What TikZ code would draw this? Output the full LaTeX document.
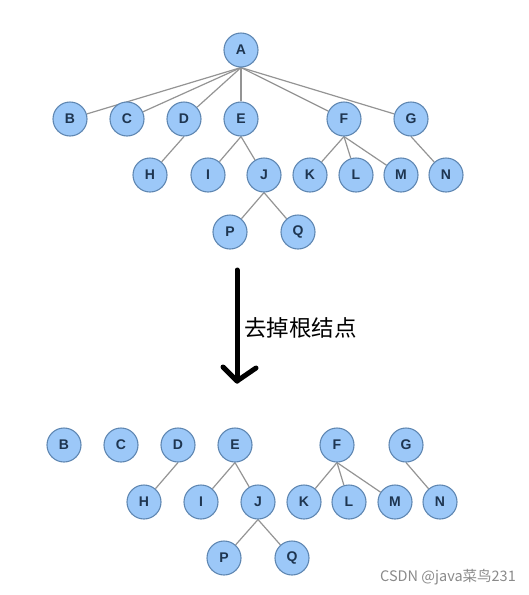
\documentclass[tikz,border=0pt]{standalone}
\usepackage{fontspec}
\setmainfont{Liberation Sans}
\newfontfamily\cjk{Noto Sans CJK SC}
\definecolor{nodefill}{HTML}{9CC8F8}
\definecolor{nodeline}{HTML}{5F87B2}
\definecolor{nodetext}{HTML}{1E3550}
\definecolor{edgecol}{HTML}{949494}
\definecolor{marktext}{HTML}{8A8A8A}
\pgfdeclarelayer{background}
\pgfsetlayers{background,main}
\tikzset{
  tnode/.style={circle, draw=nodeline, fill=nodefill, line width=1.1pt, minimum size=34pt, inner sep=0pt, font=\bfseries\fontsize{14}{14}\selectfont, text=nodetext},
  tedge/.style={draw=edgecol, line width=1.2pt},
}
\begin{document}
\begin{tikzpicture}[x=1pt, y=-1pt]
\useasboundingbox (0,0) rectangle (529,595);
% top tree
\node[tnode] (A) at (241,50) {A};
\node[tnode] (B) at (70,119) {B};
\node[tnode] (C) at (127,119) {C};
\node[tnode] (D) at (184,119) {D};
\node[tnode] (E) at (241,119) {E};
\node[tnode] (F) at (344,119) {F};
\node[tnode] (G) at (411,119) {G};
\node[tnode] (H) at (150,175) {H};
\node[tnode] (I) at (208,175) {I};
\node[tnode] (J) at (264,175) {J};
\node[tnode] (K) at (310,175) {K};
\node[tnode] (L) at (356,175) {L};
\node[tnode] (M) at (401,175) {M};
\node[tnode] (N) at (446,175) {N};
\node[tnode] (P) at (230,232) {P};
\node[tnode] (Q) at (298,232) {Q};
% bottom forest
\node[tnode] (B2) at (64,445) {B};
\node[tnode] (C2) at (121,445) {C};
\node[tnode] (D2) at (178,445) {D};
\node[tnode] (E2) at (235,445) {E};
\node[tnode] (F2) at (337,445) {F};
\node[tnode] (G2) at (406,445) {G};
\node[tnode] (H2) at (144,502) {H};
\node[tnode] (I2) at (201,502) {I};
\node[tnode] (J2) at (258,502) {J};
\node[tnode] (K2) at (304,502) {K};
\node[tnode] (L2) at (349,502) {L};
\node[tnode] (M2) at (395,502) {M};
\node[tnode] (N2) at (440,502) {N};
\node[tnode] (P2) at (224,558) {P};
\node[tnode] (Q2) at (292,558) {Q};
\begin{pgfonlayer}{background}
\foreach \c in {B,C,D,E,F,G} \draw[tedge] (A.south) -- (\c);
\foreach \s/\t in {D/H,E/I,E/J,F/K,F/L,F/M,G/N,J/P,J/Q,D2/H2,E2/I2,E2/J2,F2/K2,F2/L2,F2/M2,G2/N2,J2/P2,J2/Q2}
  \draw[tedge] (\s.south) -- (\t);
\end{pgfonlayer}
% arrow
\coordinate (arrtop) at (237,270);
\coordinate (arrbot) at (237,381);
\coordinate (armL) at (223,367);
\coordinate (armR) at (256,368);
\draw[line width=5pt, line cap=round] (arrtop) -- (arrbot);
\draw[line width=5pt, line cap=round, line join=round] (armL) -- (arrbot) -- (armR);
\node[font=\cjk\fontsize{22.5}{22.5}\selectfont, anchor=west, inner sep=0pt] (lbl) at (244,328) {去掉根结点};
\node[font=\cjk\fontsize{14.5}{14.5}\selectfont, text=marktext, anchor=east, inner sep=0pt] (mark) at (516,577) {CSDN @java菜鸟231};
\end{tikzpicture}
\end{document}
